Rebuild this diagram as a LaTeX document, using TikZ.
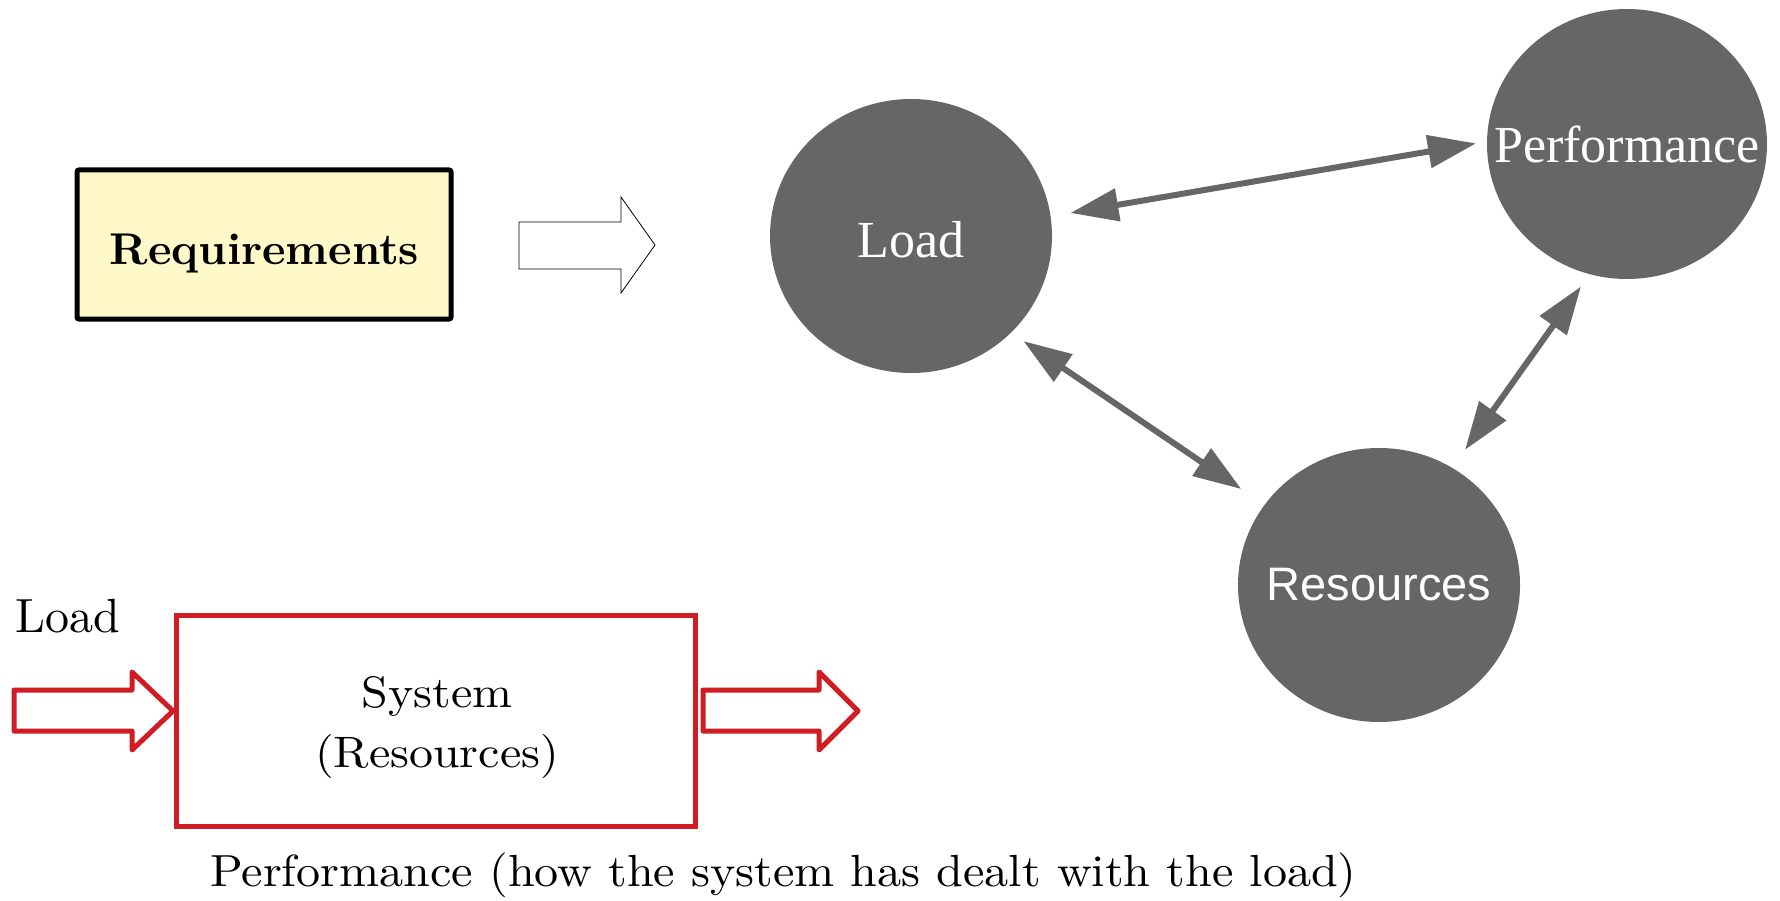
\documentclass[tikz,border=0pt]{standalone}
\usepackage{fontspec}
\newfontfamily\circserif{Liberation Serif}
\newfontfamily\circsans{Liberation Sans}
\newfontfamily\palA{lmroman10-regular}[Extension=.otf, FakeStretch=1.07]
\newfontfamily\palB{lmroman10-regular}[Extension=.otf, FakeStretch=1.09]
\newfontfamily\palC{lmroman10-regular}[Extension=.otf]
\newfontfamily\reqbold{lmroman10-bold}[Extension=.otf]
\usetikzlibrary{arrows.meta,shapes.geometric}
\definecolor{nodegray}{HTML}{666666}
\definecolor{sysred}{HTML}{D01C22}
\definecolor{reqyellow}{HTML}{FFF9C9}
\tikzset{
  bubble/.style={ellipse, fill=nodegray, draw=none, inner sep=0pt,
    minimum width=282pt, minimum height=274pt},
  bubbletext/.style={text=white, inner sep=0pt},
  link/.style={draw=nodegray, line width=6pt,
    {Triangle[length=48pt,width=32pt]}-{Triangle[length=48pt,width=32pt]}},
  redarrow/.style={draw=sysred, line width=5pt, line join=round, fill=white},
  bigtext/.style={inner sep=0pt}
}
\begin{document}
\begin{tikzpicture}[x=1pt,y=-1pt]
\useasboundingbox (0,0) rectangle (1780,901);
% requirements box
\node[draw=black, line width=5pt, fill=reqyellow, rounded corners=2pt,
  minimum width=374pt, minimum height=149pt, inner sep=0pt] (req) at (264,244.5) {};
\node[inner sep=0pt, anchor=base, font=\fontsize{44.5}{52}\reqbold] (reqtxt) at (264.5,265) {Requirements};
% white block arrow
\draw[black, line width=0.8pt, fill=white]
  (519,222) -- (621,222) -- (621,197) -- (655,245) -- (621,293) -- (621,269) -- (519,269) -- cycle;
% bubbles
\node[bubble] (load) at (911,236) {};
\node[bubbletext, font=\fontsize{52}{60}\circserif] (loadtxt) at ([yshift=-4pt]load.center) {Load};
\node[bubble, minimum width=280pt, minimum height=270pt] (perf) at (1627,144) {};
\node[bubbletext, font=\fontsize{52}{60}\circserif] (perftxt2) at (perf.center) {Performance};
\node[bubble] (res) at (1379,585) {};
\node[bubbletext, font=\fontsize{47}{56}\circsans] (restxt2) at (res.center) {Resources};
% links
\draw[link, shorten <=20pt, shorten >=11pt] (load.8) -- (perf.179);
\draw[link, shorten <=15pt, shorten >=28pt] (load.-44) -- (res.145);
\draw[link, shorten <=15pt, shorten >=22pt] (perf.254) -- (res.58);
% bottom system diagram
\node[bigtext, anchor=base west, font=\fontsize{48}{58}\palC] (loadlbl) at (15,632) {Load};
\node[draw=sysred, line width=5pt, minimum width=519pt, minimum height=211pt, inner sep=0pt] (sys) at (435.5,720.5) {};
\node[bigtext, anchor=base, font=\fontsize{44}{54}\palB] (systxt) at (437,707) {System};
\node[bigtext, anchor=base, font=\fontsize{44}{54}\palB] (restxt) at (437,767) {(Resources)};
\draw[redarrow] (14,690) -- (132,690) -- (132,672) -- (173,711) -- (132,750) -- (132,731) -- (14,731) -- cycle;
\draw[redarrow] (703,690) -- (819,690) -- (819,672) -- (858,711) -- (819,750) -- (819,731) -- (703,731) -- cycle;
\node[bigtext, anchor=base west, font=\fontsize{45}{54}\palA] (perftxt) at (210,886) {Performance (how the system has dealt with the load)};
\end{tikzpicture}
\end{document}
